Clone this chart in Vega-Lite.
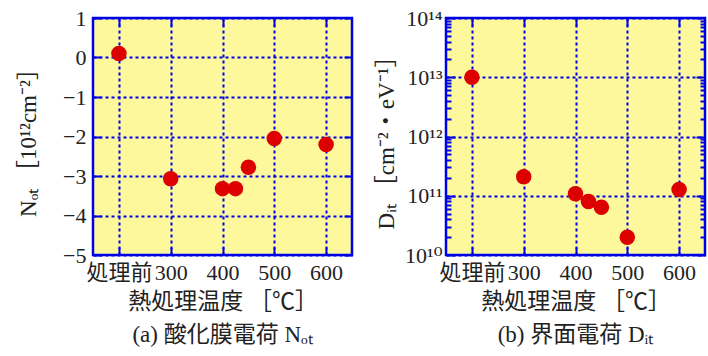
{
  "$schema": "https://vega.github.io/schema/vega-lite/v6.json",
  "background": "white",
  "padding": {"left": 16, "top": 5, "right": 0, "bottom": 0},
  "autosize": {"type": "pad"},
  "spacing": 19,
  "config": {
    "view": {"fill": "#fdf89c", "stroke": "#0000e6", "strokeWidth": 2.5},
    "font": "Liberation Serif, Noto Sans CJK JP",
    "axis": {
      "domain": false,
      "labelFont": "Liberation Serif, DejaVu Serif, Noto Sans CJK JP",
      "labelFontSize": 22,
      "labelColor": "#222222",
      "titleFont": "Liberation Serif, Noto Sans CJK JP",
      "titleFontSize": 23,
      "titleFontWeight": "normal",
      "titleColor": "#222222",
      "gridColor": "#0000e6",
      "gridDash": [3, 3],
      "gridWidth": 2,
      "gridOpacity": 1,
      "tickColor": "#0000e6",
      "tickWidth": 2
    },
    "title": {"font": "Liberation Serif, Noto Sans CJK JP", "fontSize": 23, "fontWeight": "normal", "color": "#222222"}
  },
  "data": {
    "values": [
      {"temp": 200, "not": 0.1, "dit": 1.0e13},
      {"temp": 300, "not": -3.07, "dit": 2.1e11},
      {"temp": 400, "not": -3.32, "dit": 1.08e11},
      {"temp": 425, "not": -3.32, "dit": 8.0e10},
      {"temp": 450, "not": -2.78, "dit": 6.4e10},
      {"temp": 500, "not": -2.05, "dit": 2.0e10},
      {"temp": 600, "not": -2.2, "dit": 1.28e11}
    ]
  },
  "hconcat": [
    {
      "width": 259,
      "height": 237,
      "title": {"text": "(a) 酸化膜電荷 Nₒₜ", "orient": "bottom", "anchor": "middle", "offset": 11},
      "layer": [
        {
          "mark": {"type": "circle", "size": 240, "color": "#dd0000", "opacity": 1},
          "encoding": {
            "x": {"field": "temp", "type": "quantitative",
              "scale": {"domain": [150, 650], "nice": false, "zero": false},
              "axis": {"values": [200, 300, 400, 500, 600], "labelExpr": "datum.value == 200 ? '処理前' : datum.label",
                "title": "熱処理温度 ［℃］", "tickSize": -8, "labelPadding": 15, "titlePadding": 7, "grid": true}},
            "y": {"field": "not", "type": "quantitative",
              "scale": {"domain": [-5, 1], "nice": false, "zero": false},
              "axis": {"values": [-5, -4, -3, -2, -1, 0, 1], "title": "Nₒₜ ［10¹²cm⁻²］",
                "tickSize": -8, "labelPadding": 15, "titlePadding": 22, "grid": true}}
          }
        },
        {
          "mark": {"type": "circle", "opacity": 0},
          "encoding": {
            "x": {"field": "temp", "type": "quantitative",
              "axis": {"orient": "top", "values": [200, 300, 400, 500, 600], "labels": false, "grid": false, "title": null, "tickSize": -8}},
            "y": {"field": "not", "type": "quantitative",
              "axis": {"orient": "right", "values": [-5, -4, -3, -2, -1, 0, 1], "labels": false, "grid": false, "title": null, "tickSize": -8}}
          }
        }
      ],
      "resolve": {"axis": {"x": "independent", "y": "independent"}}
    },
    {
      "width": 259,
      "height": 237,
      "title": {"text": "(b) 界面電荷 Dᵢₜ", "orient": "bottom", "anchor": "middle", "offset": 11},
      "layer": [
        {
          "mark": {"type": "circle", "size": 240, "color": "#dd0000", "opacity": 1},
          "encoding": {
            "x": {"field": "temp", "type": "quantitative",
              "scale": {"domain": [150, 650], "nice": false, "zero": false},
              "axis": {"values": [200, 300, 400, 500, 600], "labelExpr": "datum.value == 200 ? '処理前' : datum.label",
                "title": "熱処理温度 ［℃］", "tickSize": -8, "labelPadding": 15, "titlePadding": 7, "grid": true}},
            "y": {"field": "dit", "type": "quantitative",
              "scale": {"type": "log", "domain": [1e10, 1e14], "nice": false},
              "axis": {
                "values": [1e10, 2e10, 3e10, 4e10, 5e10, 6e10, 7e10, 8e10, 9e10, 1e11, 2e11, 3e11, 4e11, 5e11, 6e11, 7e11, 8e11, 9e11, 1e12, 2e12, 3e12, 4e12, 5e12, 6e12, 7e12, 8e12, 9e12, 1e13, 2e13, 3e13, 4e13, 5e13, 6e13, 7e13, 8e13, 9e13, 1e14],
                "labelExpr": "datum.value == 1e10 ? '10¹⁰' : datum.value == 1e11 ? '10¹¹' : datum.value == 1e12 ? '10¹²' : datum.value == 1e13 ? '10¹³' : datum.value == 1e14 ? '10¹⁴' : ''",
                "title": "Dᵢₜ ［cm⁻²・eV⁻¹］",
                "tickSize": {"condition": {"test": "abs(log(datum.value)/LN10 - round(log(datum.value)/LN10)) < 0.001", "value": -9}, "value": -5},
                "gridOpacity": {"condition": {"test": "abs(log(datum.value)/LN10 - round(log(datum.value)/LN10)) < 0.001", "value": 1}, "value": 0},
                "labelPadding": 13, "titlePadding": 6, "grid": true}}
          }
        },
        {
          "mark": {"type": "circle", "opacity": 0},
          "encoding": {
            "x": {"field": "temp", "type": "quantitative",
              "axis": {"orient": "top", "values": [200, 300, 400, 500, 600], "labels": false, "grid": false, "title": null, "tickSize": -8}},
            "y": {"field": "dit", "type": "quantitative",
              "axis": {"orient": "right",
                "values": [1e10, 2e10, 3e10, 4e10, 5e10, 6e10, 7e10, 8e10, 9e10, 1e11, 2e11, 3e11, 4e11, 5e11, 6e11, 7e11, 8e11, 9e11, 1e12, 2e12, 3e12, 4e12, 5e12, 6e12, 7e12, 8e12, 9e12, 1e13, 2e13, 3e13, 4e13, 5e13, 6e13, 7e13, 8e13, 9e13, 1e14],
                "labels": false, "grid": false, "title": null,
                "tickSize": {"condition": {"test": "abs(log(datum.value)/LN10 - round(log(datum.value)/LN10)) < 0.001", "value": -9}, "value": -5}}}
          }
        }
      ],
      "resolve": {"axis": {"x": "independent", "y": "independent"}}
    }
  ]
}
